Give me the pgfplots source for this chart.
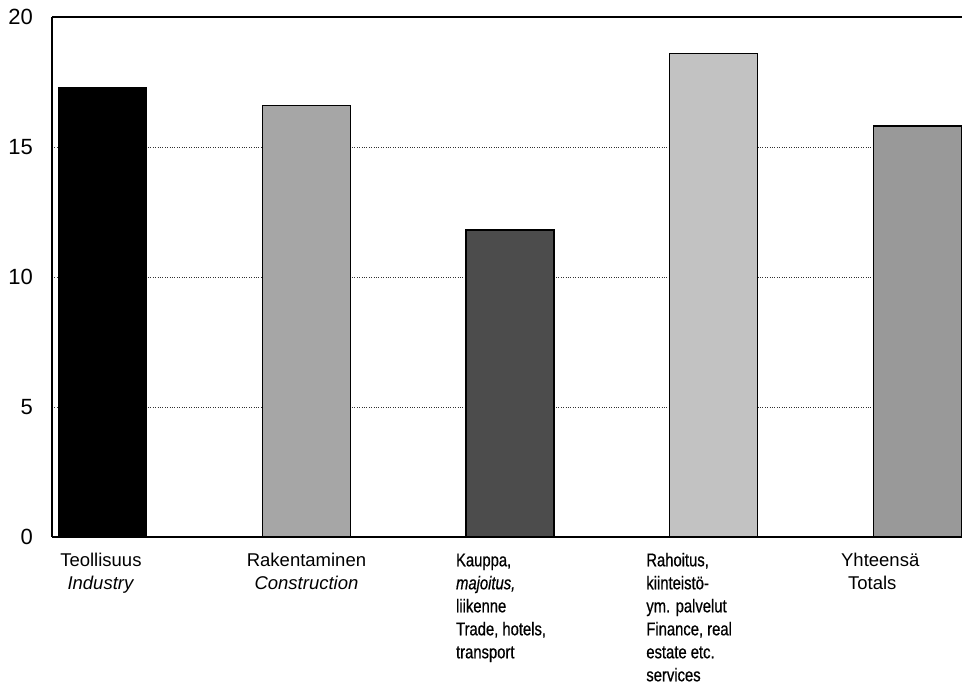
\documentclass[border=0pt]{standalone}
\usepackage{fontspec}
\setmainfont{Liberation Sans}
\newfontfamily\narrowfont[FakeStretch=0.8, FakeBold=0.6]{Liberation Sans}
\usepackage{pgfplots}
\usetikzlibrary{calc}
\pgfplotsset{compat=1.18}
\begin{document}
\begin{tikzpicture}
\begin{axis}[
  scale only axis,
  width=910pt, height=520pt,
  xmin=-0.25, xmax=4.22,
  ymin=0, ymax=20,
  axis x line*=bottom,
  axis y line*=left,
  axis line style={black, line width=1.2pt, -},
  ytick={0,5,10,15,20},
  xtick={0,1,2,3,4},
  major tick length=0pt,
  ymajorgrids,
  grid style={black!80, dotted, line width=0.6pt},
  /pgf/number format/assume math mode=true,
  yticklabel style={font=\fontsize{22}{24}\selectfont, inner sep=0pt, xshift=-19pt},
  xticklabel style={font=\fontsize{18.5}{23}\selectfont, anchor=north, inner sep=0pt, yshift=-13pt},
  xticklabels={
    {\hspace*{-4pt}\begin{tabular}{@{}c@{}}Teollisuus\\\textit{Industry}\end{tabular}},
    {\begin{tabular}{@{}c@{}}Rakentaminen\\\textit{Construction}\end{tabular}},
    {\hspace*{-18pt}\narrowfont\begin{tabular}{@{}l@{}}Kauppa,\\\textit{majoitus,}\\liikenne\\Trade, hotels,\\transport\end{tabular}},
    {\hspace*{-49pt}\narrowfont\begin{tabular}{@{}l@{}}Rahoitus,\\kiinteistö-\\ym. palvelut\\Finance, real\\estate etc.\\services\end{tabular}},
    {\hspace*{-74pt}\begin{tabular}{@{}l@{}}Yhteensä\\\hspace*{7pt}Totals\end{tabular}}
  },
  ybar, bar width=88pt, bar shift=0pt,
  clip=false,
]
\addplot[fill=black, draw=black, line width=1pt] coordinates {(0,17.3)};
\addplot[fill=black!35, draw=black, line width=1.4pt] coordinates {(1,16.6)};
\addplot[fill=black!70, draw=black, line width=1.4pt] coordinates {(2,11.8)};
\addplot[fill=black!24, draw=black, line width=1.4pt] coordinates {(3,18.6)};
\addplot[fill=black!40, draw=black, line width=1.4pt] coordinates {(4,15.8)};
\draw[black, line width=1.2pt] (rel axis cs:0,1) -- (rel axis cs:1,1);
\coordinate (A) at (rel axis cs:0,0);
\coordinate (B) at (rel axis cs:1,1);
\end{axis}
\pgfresetboundingbox
\path[use as bounding box] ($(A)+(-52pt,-148pt)$) rectangle ($(B)+(0pt,17pt)$);
\end{tikzpicture}
\end{document}
